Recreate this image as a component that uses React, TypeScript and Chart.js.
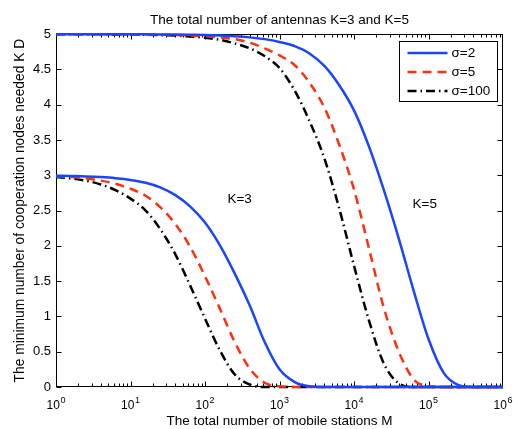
import React, { useEffect, useRef } from 'react';
import { Chart, registerables } from 'chart.js';

Chart.register(...registerables);

// Total number of mobile stations M (log-spaced samples)
const stationCounts = [
  1, 1.6, 2.5, 4, 6.3, 10, 16, 25, 40, 63, 100, 160, 250, 400, 630, 1000, 1600, 2500, 4000, 6300,
  10000, 16000, 25000, 40000, 63000, 100000, 160000, 250000, 400000, 630000, 1000000,
];

// K=3 curves
const kd3Sigma2 = [
  2.995, 2.99, 2.985, 2.975, 2.96, 2.935, 2.895, 2.83, 2.72, 2.56, 2.33, 2.0, 1.61, 1.15, 0.64, 0.25,
  0.07, 0.01, 0, 0, 0, 0, 0, 0, 0, 0, 0, 0, 0, 0, 0,
];
const kd3Sigma5 = [
  2.985, 2.975, 2.955, 2.925, 2.88, 2.81, 2.71, 2.55, 2.31, 1.99, 1.57, 1.1, 0.64, 0.26, 0.06, 0.01,
  0, 0, 0, 0, 0, 0, 0, 0, 0, 0, 0, 0, 0, 0, 0,
];
const kd3Sigma100 = [
  2.975, 2.955, 2.925, 2.87, 2.79, 2.67, 2.5, 2.24, 1.88, 1.44, 0.97, 0.51, 0.18, 0.035, 0, 0, 0, 0,
  0, 0, 0, 0, 0, 0, 0, 0, 0, 0, 0, 0, 0,
];

// K=5 curves
const kd5Sigma2 = [
  5.0, 5.0, 5.0, 5.0, 5.0, 4.999, 4.998, 4.997, 4.996, 4.993, 4.989, 4.982, 4.972, 4.955, 4.93, 4.89,
  4.83, 4.73, 4.55, 4.28, 3.92, 3.4, 2.8, 2.1, 1.37, 0.68, 0.2, 0.03, 0, 0, 0,
];
const kd5Sigma5 = [
  5.0, 5.0, 4.999, 4.998, 4.998, 4.997, 4.995, 4.993, 4.989, 4.982, 4.971, 4.954, 4.93, 4.88, 4.8,
  4.7, 4.56, 4.32, 3.96, 3.44, 2.8, 1.95, 1.13, 0.5, 0.11, 0.01, 0, 0, 0, 0, 0,
];
const kd5Sigma100 = [
  4.999, 4.999, 4.998, 4.998, 4.997, 4.995, 4.992, 4.987, 4.98, 4.968, 4.95, 4.92, 4.87, 4.8, 4.69,
  4.52, 4.2, 3.78, 3.24, 2.54, 1.72, 0.93, 0.34, 0.05, 0, 0, 0, 0, 0, 0, 0,
];

const xTickExponents = [0, 1, 2, 3, 4, 5, 6];
const legendLabels = ['σ=2', 'σ=5', 'σ=100'];
const curveNotes = [
  { text: 'K=3', m: 200, d: 2.66 },
  { text: 'K=5', m: 61000, d: 2.59 },
];

const FONT = '"Liberation Sans", Arial, Helvetica, sans-serif';
const BLUE = '#1a44ff';
const RED = '#ff3010';
const BLACK = '#000000';
const lineStyles = [
  { color: BLUE, dash: [] as number[] },
  { color: RED, dash: [9, 6] },
  { color: BLACK, dash: [9, 4, 1.5, 4] },
];

export default function App() {
  const ref = useRef<HTMLCanvasElement>(null);

  useEffect(() => {
    const canvas = ref.current;
    if (!canvas) return;
    const seriesValues = [kd3Sigma2, kd3Sigma5, kd3Sigma100, kd5Sigma2, kd5Sigma5, kd5Sigma100];
    const datasets = seriesValues.map((vals, i) => {
      const st = lineStyles[i % 3];
      return {
        label: (i < 3 ? 'K=3, ' : 'K=5, ') + legendLabels[i % 3],
        data: stationCounts.map((m, j) => ({ x: m, y: vals[j] })),
        borderColor: st.color,
        backgroundColor: st.color,
        borderDash: st.dash,
        borderWidth: 2.5,
        pointRadius: 0,
        pointHoverRadius: 0,
        cubicInterpolationMode: 'monotone' as const,
        clip: false as const,
        fill: false,
      };
    });

    const framePlugin = {
      id: 'matlabFrame',
      beforeDatasetsDraw(chart: any) {
        const { ctx, chartArea: a } = chart;
        const xs = chart.scales.x;
        const ys = chart.scales.y;
        const L = Math.round(a.left) + 0.5;
        const R = Math.round(a.right) - 0.5;
        const T = Math.round(a.top) + 0.5;
        const B = Math.round(a.bottom) - 0.5;
        ctx.save();
        ctx.strokeStyle = '#000';
        ctx.lineWidth = 1;
        ctx.setLineDash([]);
        ctx.strokeRect(L, T, R - L, B - T);
        ctx.beginPath();
        for (let e = 0; e < 6; e++) {
          for (let k = 1; k < 10; k++) {
            const v = k * Math.pow(10, e);
            const px = Math.round(xs.getPixelForValue(v)) + 0.5;
            const len = k === 1 ? 5 : 3;
            ctx.moveTo(px, B);
            ctx.lineTo(px, B - len);
            ctx.moveTo(px, T);
            ctx.lineTo(px, T + len);
          }
        }
        ys.ticks.forEach((t: any) => {
          const py = Math.round(ys.getPixelForValue(t.value)) + 0.5;
          ctx.moveTo(L, py);
          ctx.lineTo(L + 5, py);
          ctx.moveTo(R, py);
          ctx.lineTo(R - 5, py);
        });
        ctx.stroke();

        // x tick labels 10^n
        ctx.fillStyle = '#000';
        ctx.textBaseline = 'alphabetic';
        ctx.textAlign = 'left';
        xTickExponents.forEach((e) => {
          const px = xs.getPixelForValue(Math.pow(10, e));
          ctx.font = `12px ${FONT}`;
          const wb = ctx.measureText('10').width;
          ctx.font = `9px ${FONT}`;
          const we = ctx.measureText(String(e)).width;
          const x0 = px - (wb + we + 0.5) / 2;
          ctx.font = `12px ${FONT}`;
          ctx.fillText('10', x0, a.bottom + 22);
          ctx.font = `9px ${FONT}`;
          ctx.fillText(String(e), x0 + wb + 0.5, a.bottom + 16);
        });
        ctx.restore();
      },
      afterDatasetsDraw(chart: any) {
        const { ctx, chartArea: a } = chart;
        const xs = chart.scales.x;
        const ys = chart.scales.y;
        ctx.save();
        // annotations
        ctx.fillStyle = '#000';
        ctx.font = `13.5px ${FONT}`;
        ctx.textAlign = 'left';
        ctx.textBaseline = 'middle';
        curveNotes.forEach((n) => {
          ctx.fillText(n.text, xs.getPixelForValue(n.m), ys.getPixelForValue(n.d));
        });
        // legend
        const bw = 98;
        const bh = 60;
        const bx = Math.round(a.right - 6 - bw) + 0.5;
        const by = Math.round(a.top + 7) + 0.5;
        ctx.fillStyle = '#fff';
        ctx.fillRect(bx, by, bw, bh);
        ctx.strokeStyle = '#000';
        ctx.lineWidth = 1;
        ctx.setLineDash([]);
        ctx.strokeRect(bx, by, bw, bh);
        legendLabels.forEach((lab, i) => {
          const st = lineStyles[i];
          const ry = by + 11.5 + i * 19;
          ctx.beginPath();
          ctx.strokeStyle = st.color;
          ctx.lineWidth = 2.5;
          ctx.setLineDash(st.dash);
          ctx.moveTo(bx + 8, ry);
          ctx.lineTo(bx + 48, ry);
          ctx.stroke();
          ctx.setLineDash([]);
          ctx.fillStyle = '#000';
          ctx.font = `13.5px ${FONT}`;
          ctx.textBaseline = 'middle';
          ctx.fillText(lab, bx + 52, ry + 0.5);
        });
        ctx.restore();
      },
    };

    const chart = new Chart(canvas, {
      type: 'line',
      data: { datasets: datasets as any },
      options: {
        animation: false,
        responsive: false,
        events: [],
        layout: { padding: { left: 0, right: 10, top: 0, bottom: 0 } },
        plugins: {
          legend: { display: false },
          tooltip: { enabled: false },
          title: {
            display: true,
            text: 'The total number of antennas K=3 and K=5',
            color: '#000',
            fullSize: false,
            font: { family: FONT, size: 13.5, weight: 'normal' },
            padding: { top: 12, bottom: 6 },
          },
        },
        scales: {
          x: {
            type: 'logarithmic',
            min: 1,
            max: 1000000,
            grid: { display: false },
            border: { display: false },
            ticks: { display: false },
            title: {
              display: true,
              text: 'The total number of mobile stations M',
              color: '#000',
              font: { family: FONT, size: 13.5 },
              padding: { top: 0, bottom: 0 },
            },
            afterFit: (s: any) => {
              s.height = 42;
            },
          },
          y: {
            type: 'linear',
            min: 0,
            max: 5,
            grid: { display: false, drawTicks: false },
            border: { display: false },
            ticks: {
              stepSize: 0.5,
              color: '#000',
              font: { family: FONT, size: 13 },
              padding: 5,
              callback: (v: any) => String(Number(Number(v).toFixed(1))),
            },
            title: {
              display: true,
              text: 'The minimum number of cooperation nodes needed K D',
              color: '#000',
              font: { family: FONT, size: 13.8 },
              padding: { top: 11.5, bottom: 0 },
            },
            afterFit: (s: any) => {
              s.width = 56;
            },
          },
        },
      } as any,
      plugins: [framePlugin],
    });
    return () => chart.destroy();
  }, []);

  return (
    <div style={{ position: 'fixed', left: 0, top: 0, width: 513, height: 429, background: '#fff' }}>
      <canvas ref={ref} width={513} height={429} style={{ display: 'block', width: 513, height: 429 }} />
    </div>
  );
}
